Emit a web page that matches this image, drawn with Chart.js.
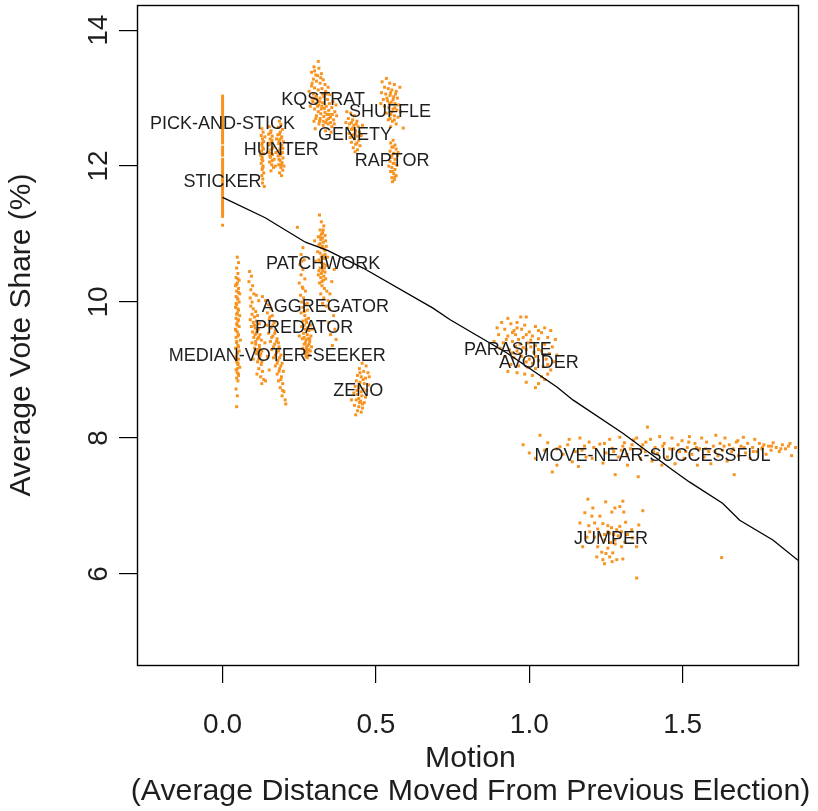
<!DOCTYPE html>
<html><head><meta charset="utf-8">
<script src="https://cdn.jsdelivr.net/npm/chart.js@4.4.1/dist/chart.umd.min.js"></script>
<style>html,body{margin:0;padding:0;background:#fff;}#wrap{width:818px;height:811px;}</style>
</head><body><div id="wrap"><canvas id="c" width="818" height="811"></canvas></div>
<script>
// ---------- data ----------
const xTickValues = [0, 0.5, 1.0, 1.5];
const yTickValues = [6, 8, 10, 12, 14];
const xTitle = ["Motion", "(Average Distance Moved From Previous Election)"];
const yTitle = "Average Vote Share (%)";

const labelNames = ["PICK-AND-STICK","STICKER","HUNTER","KQSTRAT","SHUFFLE","GENETY","RAPTOR","PATCHWORK","AGGREGATOR","PREDATOR","MEDIAN-VOTER-SEEKER","ZENO","PARASITE","AVOIDER","MOVE-NEAR-SUCCESSFUL","JUMPER"];
const labelX = [0.0, 0.0, 0.191, 0.328, 0.546, 0.432, 0.553, 0.328, 0.335, 0.266, 0.178, 0.442, 0.930, 1.031, 1.402, 1.266];
const labelY = [12.62, 11.76, 12.24, 12.97, 12.79, 12.46, 12.07, 10.56, 9.93, 9.62, 9.21, 8.69, 9.29, 9.10, 7.74, 6.51];

const fitX = [0, 0.139, 0.270, 0.342, 0.458, 0.686, 0.742, 0.817, 0.927, 1.090, 1.142, 1.305, 1.467, 1.523, 1.630, 1.686, 1.794, 1.876];
const fitY = [11.54, 11.24, 10.88, 10.76, 10.50, 9.91, 9.74, 9.54, 9.25, 8.75, 8.56, 8.07, 7.53, 7.35, 7.04, 6.79, 6.50, 6.20];

const stickerY = [13.03,13.00,12.97,12.94,12.91,12.88,12.85,12.82,12.79,12.76,12.73,12.70,12.67,12.64,12.61,12.58,12.55,12.52,12.49,12.46,12.43,12.40,12.37,12.34,12.28,12.25,12.22,12.19,12.16,12.10,12.07,12.04,12.01,11.98,11.95,11.92,11.89,11.86,11.83,11.80,11.77,11.74,11.71,11.68,11.65,11.62,11.59,11.56,11.53,11.50,11.47,11.44,11.41,11.38,11.35,11.32,11.29,11.26,11.13];

const hunter = [[0.128,12.55],[0.132,12.50],[0.126,12.45],[0.130,12.40],[0.134,12.36],[0.128,12.31],[0.131,12.27],[0.127,12.22],[0.133,12.18],[0.129,12.13],[0.131,12.08],[0.126,12.04],[0.132,12.00],[0.129,11.95],[0.134,11.90],[0.128,11.86],[0.131,11.81],[0.130,11.75],[0.136,11.70],[0.138,12.43],[0.124,12.16],
[0.152,12.58],[0.158,12.52],[0.150,12.47],[0.162,12.44],[0.155,12.40],[0.160,12.35],[0.152,12.31],[0.165,12.28],[0.157,12.24],[0.150,12.20],[0.163,12.17],[0.156,12.13],[0.168,12.10],[0.153,12.06],[0.160,12.02],[0.166,11.98],[0.158,11.93],
[0.185,12.66],[0.190,12.61],[0.182,12.57],[0.195,12.54],[0.188,12.50],[0.180,12.46],[0.193,12.43],[0.186,12.39],[0.198,12.36],[0.183,12.33],[0.190,12.29],[0.196,12.26],[0.185,12.22],[0.192,12.19],[0.181,12.15],[0.197,12.12],[0.188,12.08],[0.194,12.05],[0.183,12.02],[0.190,11.98],[0.196,11.94],[0.186,11.90],[0.192,11.86],[0.176,12.40],[0.174,12.20],[0.172,12.00],[0.200,12.00],
[0.186,12.47],[0.191,12.41],[0.184,12.36],[0.193,12.31],[0.187,12.25],[0.195,12.20],[0.188,12.16],[0.184,12.10],[0.192,12.02],[0.156,12.49],[0.161,12.38],[0.154,12.34],[0.162,12.26],[0.158,12.19],[0.154,12.15],[0.162,12.08],[0.129,12.34],[0.133,12.25],[0.128,12.10],[0.131,11.98]];

const kqstrat = [[0.312,13.54],[0.290,13.38],[0.300,13.40],[0.310,13.33],[0.322,13.36],[0.296,13.28],[0.306,13.25],[0.318,13.22],[0.328,13.27],[0.290,13.18],[0.300,13.15],[0.312,13.12],[0.324,13.14],[0.336,13.10],[0.296,13.06],[0.306,13.03],[0.318,13.00],[0.330,13.02],[0.342,12.98],[0.350,13.05],[0.294,12.95],[0.304,12.92],[0.314,12.90],[0.326,12.93],[0.338,12.88],[0.348,12.92],[0.360,12.95],[0.300,12.84],[0.312,12.80],[0.322,12.84],[0.334,12.79],[0.346,12.82],[0.356,12.86],[0.366,12.80],[0.306,12.74],[0.318,12.70],[0.330,12.73],[0.340,12.68],[0.352,12.72],[0.362,12.68],[0.298,12.66],[0.314,12.62],[0.328,12.60],[0.344,12.62],[0.356,12.58],[0.302,12.55],[0.336,12.52],[0.320,13.30],[0.334,13.20],[0.344,13.16],[0.282,13.10],[0.286,12.88],[0.370,12.90],[0.372,12.74],[0.354,12.50],
[0.308,12.98],[0.316,12.95],[0.324,12.88],[0.332,12.85],[0.340,12.76],[0.348,12.76],[0.320,12.77],[0.310,12.88],[0.328,12.66],[0.336,12.64],[0.346,12.70],[0.352,12.64],[0.358,12.76],[0.316,12.66],[0.304,12.70],[0.326,13.06],[0.338,13.06],[0.300,13.00],[0.292,13.22],[0.304,13.34],[0.314,13.44],[0.298,13.46],[0.292,13.00],[0.364,12.62]];

const genety = [[0.405,12.80],[0.418,12.78],[0.430,12.74],[0.410,12.70],[0.424,12.68],[0.438,12.66],[0.402,12.64],[0.414,12.62],[0.428,12.60],[0.442,12.58],[0.408,12.56],[0.420,12.54],[0.434,12.52],[0.446,12.50],[0.412,12.48],[0.426,12.46],[0.440,12.44],[0.416,12.42],[0.430,12.40],[0.444,12.38],[0.420,12.35],[0.434,12.32],[0.448,12.30],[0.426,12.27],[0.440,12.24],[0.432,12.21],[0.452,12.45],[0.456,12.60],
[0.420,12.64],[0.428,12.54],[0.432,12.48],[0.424,12.56],[0.436,12.62],[0.422,12.44],[0.438,12.34]];

const shuffle = [[0.534,13.29],[0.520,13.24],[0.545,13.22],[0.560,13.20],[0.528,13.16],[0.540,13.14],[0.552,13.12],[0.566,13.10],[0.518,13.08],[0.532,13.06],[0.546,13.04],[0.558,13.02],[0.570,13.00],[0.524,12.98],[0.538,12.96],[0.550,12.94],[0.562,12.92],[0.574,12.90],[0.528,12.88],[0.542,12.86],[0.556,12.84],[0.568,12.82],[0.534,12.78],[0.548,12.76],[0.560,12.74],[0.572,12.72],[0.540,12.68],[0.554,12.66],[0.566,12.62],[0.548,12.58],[0.589,12.56],[0.578,13.16],[0.516,12.92],[0.580,12.80],
[0.548,13.08],[0.556,12.98],[0.544,12.92],[0.552,12.80],[0.562,12.86],[0.546,12.70],[0.560,12.68],[0.536,13.00],[0.564,13.06]];

const raptor = [[0.556,12.38],[0.548,12.34],[0.562,12.31],[0.552,12.28],[0.566,12.25],[0.546,12.22],[0.558,12.19],[0.570,12.16],[0.550,12.13],[0.562,12.10],[0.546,12.07],[0.556,12.04],[0.568,12.01],[0.552,11.98],[0.562,11.95],[0.548,11.92],[0.558,11.89],[0.566,11.86],[0.552,11.83],[0.560,11.80],[0.554,11.77],[0.572,12.20],[0.542,12.00],
[0.556,12.28],[0.552,12.16],[0.560,12.04],[0.554,11.92],[0.562,11.84]];

const medianVoterSeeker = [[0.048,10.66],[0.052,10.58],[0.046,10.50],[0.050,10.42],[0.044,10.36],[0.054,10.32],[0.048,10.28],[0.042,10.24],[0.052,10.20],[0.046,10.16],[0.056,10.12],[0.044,10.08],[0.050,10.04],[0.054,10.00],[0.046,9.96],[0.042,9.92],[0.052,9.88],[0.048,9.84],[0.056,9.80],[0.044,9.76],[0.050,9.72],[0.046,9.68],[0.054,9.64],[0.042,9.60],[0.048,9.56],[0.052,9.52],[0.044,9.48],[0.058,9.44],[0.046,9.40],[0.050,9.36],[0.042,9.32],[0.054,9.28],[0.048,9.24],[0.044,9.20],[0.052,9.16],[0.046,9.12],[0.050,9.08],[0.056,9.04],[0.044,9.00],[0.048,8.96],[0.052,8.92],[0.046,8.88],[0.050,8.84],[0.044,8.72],[0.048,8.62],[0.046,8.46],
[0.050,10.34],[0.046,10.26],[0.052,10.14],[0.048,10.06],[0.044,9.98],[0.050,9.90],[0.046,9.82],[0.052,9.74],[0.048,9.66],[0.044,9.58],[0.050,9.50],[0.046,9.42],[0.052,9.34],[0.048,9.26],[0.046,9.18],[0.050,9.10],[0.048,9.02],[0.052,8.94]];

const predator = [[0.088,10.45],[0.094,10.38],[0.086,10.30],[0.098,10.24],[0.092,10.18],[0.102,10.12],[0.090,10.06],[0.110,10.10],[0.096,10.00],[0.118,10.02],[0.130,10.08],
[0.092,9.94],[0.100,9.90],[0.108,9.86],[0.096,9.82],[0.104,9.78],[0.114,9.80],[0.090,9.74],[0.100,9.70],[0.110,9.72],[0.120,9.68],[0.094,9.64],[0.106,9.62],[0.116,9.60],[0.098,9.56],[0.110,9.54],[0.122,9.52],[0.102,9.48],[0.114,9.46],[0.126,9.44],[0.096,9.40],[0.108,9.38],[0.120,9.36],[0.104,9.32],[0.116,9.30],[0.128,9.28],[0.110,9.24],[0.122,9.20],[0.100,9.16],[0.114,9.12],[0.126,9.08],[0.118,9.02],[0.130,8.98],[0.112,8.94],[0.124,8.90],[0.134,8.86],[0.128,8.80],[0.140,8.84],
[0.140,10.02],[0.150,9.96],[0.158,9.90],[0.146,9.84],[0.162,9.80],[0.152,9.74],[0.168,9.70],[0.144,9.66],[0.158,9.62],[0.172,9.58],[0.150,9.54],[0.164,9.50],[0.178,9.46],[0.156,9.42],[0.170,9.38],[0.184,9.34],[0.160,9.30],[0.176,9.26],[0.190,9.22],[0.166,9.18],[0.180,9.14],[0.194,9.10],[0.172,9.06],[0.186,9.02],[0.198,8.98],[0.178,8.94],[0.192,8.90],[0.182,8.84],[0.196,8.80],[0.188,8.74],[0.200,8.68],[0.194,8.62],[0.204,8.56],[0.206,8.50],[0.138,9.40],[0.146,9.20],[0.152,9.00],
[0.104,9.66],[0.112,9.58],[0.118,9.48],[0.108,9.42],[0.120,9.32],[0.112,9.28],[0.124,9.24],[0.118,9.16],[0.128,9.12],[0.106,9.52],[0.164,9.66],[0.170,9.54],[0.176,9.42],[0.166,9.34],[0.182,9.28],[0.172,9.22],[0.186,9.18],[0.178,9.10],[0.190,9.06],[0.184,8.98],[0.190,8.86],[0.196,8.70],[0.154,9.78],[0.160,9.48],[0.182,9.40]];

const aggregator = [[0.244,11.10],[0.262,10.80],[0.256,10.70],[0.266,10.62],[0.252,10.55],[0.262,10.48],[0.256,10.40],[0.268,10.34],[0.250,10.28],[0.260,10.22],[0.270,10.16],[0.254,10.10],[0.264,10.06],
[0.258,10.00],[0.270,9.96],[0.262,9.92],[0.276,9.88],[0.256,9.84],[0.268,9.80],[0.280,9.76],[0.262,9.72],[0.274,9.70],[0.286,9.66],[0.258,9.64],[0.270,9.60],[0.282,9.58],[0.264,9.54],[0.276,9.52],[0.288,9.50],[0.260,9.46],[0.272,9.44],[0.284,9.42],[0.266,9.38],[0.278,9.36],[0.290,9.34],[0.262,9.32],[0.274,9.30],[0.286,9.28],[0.270,9.24],[0.282,9.22],[0.276,9.18],[0.292,9.60],[0.250,9.50],
[0.266,9.48],[0.278,9.46],[0.270,9.40],[0.282,9.38],[0.274,9.34],[0.268,9.28],[0.280,9.30],[0.276,9.26],[0.272,9.20],[0.284,9.46],[0.266,9.66],[0.278,9.62],[0.272,9.74],[0.266,9.86],[0.276,9.98],[0.262,10.20],[0.258,10.60]];

const patchwork = [[0.316,11.28],[0.322,11.18],[0.330,11.12],[0.318,11.06],[0.326,11.02],[0.334,10.98],[0.312,10.96],[0.320,10.92],[0.328,10.88],[0.336,10.90],[0.314,10.84],[0.322,10.80],[0.330,10.78],[0.338,10.82],[0.310,10.74],[0.318,10.72],[0.326,10.68],[0.334,10.70],[0.342,10.66],[0.314,10.62],[0.322,10.58],[0.330,10.56],[0.338,10.54],[0.318,10.50],[0.326,10.46],[0.334,10.44],[0.312,10.40],[0.320,10.36],[0.328,10.32],[0.336,10.34],[0.316,10.28],[0.324,10.24],[0.332,10.20],[0.340,10.16],[0.320,10.12],[0.330,10.06],[0.344,10.02],[0.326,9.98],[0.338,9.94],[0.348,9.90],[0.356,10.30],[0.350,10.12],[0.362,9.80],[0.346,9.70],[0.366,9.60],[0.352,9.52],[0.370,9.45],[0.358,9.36],[0.364,10.48],[0.304,10.60],[0.300,10.90],
[0.318,10.96],[0.326,10.94],[0.318,10.86],[0.326,10.82],[0.334,10.76],[0.322,10.66],[0.330,10.64],[0.318,10.60],[0.326,10.52],[0.322,10.42],[0.330,10.38],[0.324,10.30],[0.314,10.46],[0.332,10.50],[0.328,11.06],[0.322,11.00]];

const zeno = [[0.455,9.10],[0.468,9.06],[0.446,9.02],[0.460,8.98],[0.474,8.96],[0.440,8.92],[0.452,8.90],[0.466,8.88],[0.436,8.84],[0.448,8.82],[0.462,8.80],[0.476,8.78],[0.432,8.76],[0.444,8.74],[0.458,8.72],[0.470,8.70],[0.428,8.66],[0.440,8.64],[0.454,8.62],[0.466,8.60],[0.436,8.56],[0.450,8.54],[0.462,8.52],[0.430,8.48],[0.444,8.46],[0.456,8.44],[0.440,8.40],[0.452,8.38],[0.434,8.34],[0.420,8.56],[0.478,8.90],
[0.448,8.96],[0.458,8.86],[0.446,8.78],[0.452,8.68],[0.444,8.58],[0.456,8.50],[0.446,8.52],[0.438,8.70]];

const parasiteAvoider = [[0.930,9.76],[0.972,9.78],[0.990,9.78],[0.910,9.70],[0.940,9.68],[0.960,9.70],[0.985,9.66],[1.020,9.64],[1.050,9.62],[0.895,9.62],[0.920,9.60],[0.950,9.58],[0.975,9.60],[1.000,9.56],[1.040,9.55],[1.070,9.58],[0.900,9.52],[0.930,9.50],[0.955,9.52],[0.980,9.48],[1.010,9.50],[1.030,9.46],[1.060,9.48],[1.085,9.45],[0.885,9.42],[0.915,9.40],[0.945,9.42],[0.970,9.38],[0.995,9.40],[1.020,9.36],[1.050,9.38],[1.075,9.34],[0.905,9.32],[0.935,9.30],[0.960,9.28],[0.990,9.30],[1.015,9.26],[1.040,9.28],[1.065,9.24],[1.090,9.22],[0.920,9.20],[0.950,9.18],[0.975,9.20],[1.000,9.16],[1.030,9.14],[1.055,9.16],[1.080,9.12],[0.940,9.08],[0.965,9.06],[0.995,9.04],[1.020,9.02],[1.045,9.05],[1.070,9.00],[0.960,8.96],[0.985,8.94],[1.010,8.92],[1.040,8.90],[1.060,8.94],[0.990,8.82],[1.030,8.80],[1.020,8.74],[1.050,8.86],[0.930,8.98],
[0.945,9.55],[0.965,9.45],[0.990,9.52],[1.005,9.44],[0.925,9.45],[0.955,9.35],[0.980,9.33],[1.005,9.34],[1.030,9.30],[0.945,9.25],[0.970,9.24],[1.020,9.20],[1.045,9.22],[0.990,9.12],[1.010,9.10],[1.060,9.08],[0.960,9.62],[1.030,9.58]];

const moveNearSuccessful = [[0.980,7.90],[1.035,8.04],[1.060,7.93],[1.075,7.50],[1.100,7.87],[1.110,7.76],[1.125,7.90],[1.140,7.65],[1.150,7.80],[1.165,8.00],[1.172,7.82],[1.185,7.72],[1.195,7.94],[1.205,7.70],[1.000,7.78],[1.020,7.70],[1.050,7.82],[1.090,7.60],[1.130,7.98],[1.160,7.58],
[1.230,7.91],[1.240,7.63],[1.250,7.78],[1.262,7.98],[1.270,7.85],[1.280,7.46],[1.290,7.72],[1.295,8.01],[1.305,7.88],[1.310,7.93],[1.318,7.76],[1.320,7.60],[1.330,7.84],[1.340,7.97],[1.350,8.00],[1.355,7.43],[1.362,7.70],[1.370,7.90],[1.378,7.80],[1.385,8.16],[1.395,7.98],[1.400,7.66],[1.410,7.86],[1.418,7.77],[1.425,8.02],[1.432,7.60],[1.440,7.92],[1.450,7.72],[1.458,7.84],[1.465,8.00],[1.475,7.62],[1.485,7.90],[1.490,7.80],[1.498,7.96],
[1.505,7.70],[1.515,7.86],[1.522,8.02],[1.530,7.76],[1.540,7.92],[1.548,7.60],[1.555,7.84],[1.562,8.00],[1.570,7.72],[1.578,7.94],[1.585,7.80],[1.592,7.62],[1.600,7.88],[1.608,8.04],[1.615,7.74],[1.622,7.92],[1.630,7.82],[1.638,8.00],[1.645,7.66],[1.652,7.90],[1.660,7.80],[1.668,7.46],[1.675,7.94],[1.682,7.74],[1.690,7.88],[1.698,8.01],[1.705,7.78],[1.712,7.92],[1.720,7.70],[1.728,7.86],[1.735,7.98],[1.742,7.80],[1.750,7.92],[1.758,7.84],[1.765,7.90],[1.772,7.76],[1.780,7.88],[1.788,7.82],[1.795,7.93],[1.805,7.86],[1.815,7.80],[1.825,7.90],[1.835,7.84],[1.845,7.88],[1.855,7.74],[1.868,7.86],
[1.210,7.86],[1.245,7.92],[1.275,7.80],[1.300,7.82],[1.335,7.90],[1.365,7.84],[1.405,7.80],[1.435,7.88],[1.470,7.84],[1.510,7.80],[1.545,7.86],[1.575,7.84],[1.605,7.80],[1.635,7.88],[1.665,7.84],[1.700,7.86],[1.730,7.80],[1.760,7.86],[1.790,7.88],[1.820,7.84],[1.850,7.92],[1.380,7.94],[1.520,7.94],[1.680,7.96],[1.090,7.84],[1.180,7.88]];

const jumper = [[1.191,7.10],[1.249,7.06],[1.305,7.07],[1.207,6.97],[1.279,6.97],[1.295,6.99],[1.181,6.90],[1.204,6.85],[1.230,6.85],[1.269,6.91],[1.308,6.91],[1.370,6.93],[1.165,6.75],[1.194,6.71],[1.213,6.75],[1.240,6.74],[1.256,6.71],[1.314,6.76],[1.357,6.72],[1.197,6.62],[1.223,6.66],[1.256,6.62],[1.285,6.65],[1.301,6.62],[1.334,6.65],[1.188,6.54],[1.213,6.54],[1.246,6.50],[1.279,6.50],[1.311,6.47],[1.337,6.53],[1.174,6.40],[1.223,6.40],[1.256,6.38],[1.301,6.40],[1.350,6.40],[1.220,6.25],[1.240,6.21],[1.262,6.25],[1.285,6.21],[1.305,6.22],[1.236,6.32],[1.272,6.31],[1.350,5.94],[1.627,6.24],
[1.262,6.60],[1.275,6.58],[1.290,6.56],[1.268,6.68],[1.295,6.70],[1.245,6.58],[1.280,6.44],[1.265,6.46],[1.230,6.57],[1.320,6.58],[1.250,6.30],[1.270,6.18],[1.245,6.15]];

// ---------- styling ----------
const ORANGE = '#F7931E';
const TEXT = '#1e1e1e';
const FONT = '"Liberation Sans", Arial, Helvetica, sans-serif';

const clusters = [stickerY.map(y => [0, y]), hunter, kqstrat, genety, shuffle, raptor, medianVoterSeeker, predator, aggregator, patchwork, zeno, parasiteAvoider, moveNearSuccessful, jumper];

const pointSets = clusters.map(c => ({
  type: 'scatter',
  data: c.map(p => ({x: p[0], y: p[1]})),
  backgroundColor: ORANGE,
  borderWidth: 0,
  pointStyle: 'rect',
  pointRadius: 2.1,
  pointHoverRadius: 2.1
}));

const fitSet = {
  type: 'line',
  data: fitX.map((x, i) => ({x: x, y: fitY[i]})),
  borderColor: '#000',
  borderWidth: 1.3,
  pointRadius: 0,
  fill: false,
  tension: 0
};

const annotatePlugin = {
  id: 'annotate',
  afterDatasetsDraw(chart) {
    const {ctx, scales: {x, y}} = chart;
    ctx.save();
    ctx.fillStyle = TEXT;
    ctx.font = '18px ' + FONT;
    ctx.textAlign = 'center';
    ctx.textBaseline = 'middle';
    labelNames.forEach((n, i) => {
      ctx.fillText(n, x.getPixelForValue(labelX[i]), y.getPixelForValue(labelY[i]));
    });
    ctx.restore();
  },
  afterDraw(chart) {
    const {ctx, chartArea: a, scales: {y}} = chart;
    ctx.save();
    ctx.strokeStyle = '#000';
    ctx.lineWidth = 1.4;
    ctx.strokeRect(Math.round(a.left) + 0.5, Math.round(a.top) + 0.5, Math.round(a.right - a.left), Math.round(a.bottom - a.top));
    ctx.fillStyle = TEXT;
    ctx.textAlign = 'center';
    ctx.textBaseline = 'middle';
    // y tick labels, rotated as in the original
    ctx.font = '28px ' + FONT;
    y.ticks.forEach(t => {
      const py = y.getPixelForValue(t.value);
      ctx.save();
      ctx.translate(a.left - 38, py);
      ctx.rotate(-Math.PI / 2);
      ctx.fillText(String(t.value), 0, 0);
      ctx.restore();
    });
    // x axis title (two lines, may be wider than the plot box)
    ctx.font = '30.3px ' + FONT;
    const cx = (a.left + a.right) / 2 + 3;
    xTitle.forEach((line, i) => {
      ctx.fillText(line, cx, a.bottom + 94 + i * 33);
    });
    ctx.restore();
  }
};

new Chart(document.getElementById('c'), {
  type: 'scatter',
  data: {datasets: [fitSet].concat(pointSets)},
  options: {
    responsive: false,
    animation: false,
    devicePixelRatio: 1,
    events: [],
    layout: {padding: {left: 0, right: 20, top: 5, bottom: 0}},
    plugins: {legend: {display: false}, tooltip: {enabled: false}},
    scales: {
      x: {
        type: 'linear',
        min: -0.279, max: 1.876,
        afterBuildTicks: s => { s.ticks = xTickValues.map(v => ({value: v})); },
        afterFit: s => { s.height = 146; },
        border: {display: false},
        grid: {drawOnChartArea: false, drawTicks: true, tickLength: 18, color: '#000', lineWidth: 1.2},
        ticks: {color: TEXT, font: {family: FONT, size: 28}, padding: 25, maxRotation: 0,
                callback: v => Number(v).toFixed(1)},
        title: {display: false}
      },
      y: {
        type: 'linear',
        min: 4.66, max: 14.37,
        afterBuildTicks: s => { s.ticks = yTickValues.map(v => ({value: v})); },
        afterFit: s => { s.width = 137; },
        border: {display: false},
        grid: {drawOnChartArea: false, drawTicks: true, tickLength: 18, color: '#000', lineWidth: 1.2},
        ticks: {display: false},
        title: {display: true, text: yTitle, color: TEXT, font: {family: FONT, size: 30, lineHeight: 1.2}, padding: {top: 4, bottom: 0}}
      }
    }
  },
  plugins: [annotatePlugin]
});
</script>
</body></html>
